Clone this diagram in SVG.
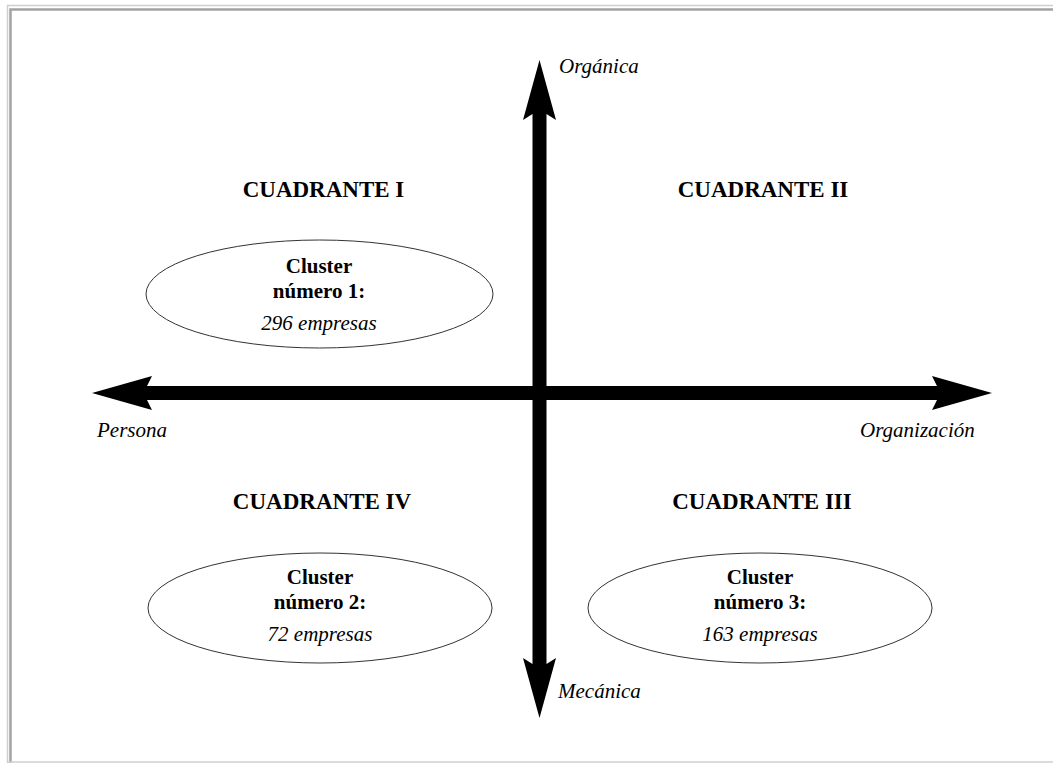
<svg xmlns="http://www.w3.org/2000/svg" width="1053" height="763" viewBox="0 0 1053 763">
  <style>
    .frame-outer { stroke: #cfcfcf; stroke-width: 1.5; fill: none; }
    .frame-inner { stroke: #a3a3a3; stroke-width: 2.5; fill: none; }
    .axis { fill: #000; stroke: none; }
    .cluster { fill: #fff; stroke: #333; stroke-width: 1; }
    .head { font-family: "Liberation Serif", "Times New Roman", serif; font-size: 23px; font-weight: bold; fill: #000; text-anchor: middle; }
    .bold { font-family: "Liberation Serif", "Times New Roman", serif; font-size: 21px; font-weight: bold; fill: #000; text-anchor: middle; }
    .ital { font-family: "Liberation Serif", "Times New Roman", serif; font-size: 21px; font-style: italic; fill: #000; }
    .mid { text-anchor: middle; }
  </style>

  <rect width="1053" height="763" fill="#fff"/>

  <!-- page frame -->
  <g id="frame">
    <path class="frame-outer" d="M7.5 763 V5.5 H1053"/>
    <path class="frame-inner" d="M10.5 763 V9.5 H1053"/>
    <path class="frame-outer" d="M7.5 762 H1053"/>
  </g>

  <!-- axes -->
  <g id="connectors">
    <polygon class="axis" points="539.5,60 556,120 546.5,114 546.5,664 556,658 539.5,718 523,658 532.5,664 532.5,114 523,120"/>
    <polygon class="axis" points="92,393 152,376 147,386 937,386 932,376 992,393 932,410 937,400 147,400 152,410"/>
  </g>

  <g id="label-organica"><text class="ital" x="559" y="73">Orgánica</text></g>
  <g id="label-mecanica"><text class="ital" x="558" y="698">Mecánica</text></g>
  <g id="label-persona"><text class="ital" x="97" y="437">Persona</text></g>
  <g id="label-organizacion"><text class="ital" x="860" y="437">Organización</text></g>

  <g id="cuadrante-1"><text class="head" x="323.5" y="197">CUADRANTE I</text></g>
  <g id="cuadrante-2"><text class="head" x="763" y="197">CUADRANTE II</text></g>
  <g id="cuadrante-4"><text class="head" x="322" y="509">CUADRANTE IV</text></g>
  <g id="cuadrante-3"><text class="head" x="762" y="509">CUADRANTE III</text></g>

  <g id="cluster-1">
    <ellipse class="cluster" cx="319.5" cy="294" rx="173.5" ry="54"/>
    <text class="bold" x="319" y="273">Cluster</text>
    <text class="bold" x="319" y="298">número 1:</text>
    <text class="ital mid" x="319" y="330">296 empresas</text>
  </g>

  <g id="cluster-2">
    <ellipse class="cluster" cx="320" cy="608" rx="172" ry="55"/>
    <text class="bold" x="320" y="584">Cluster</text>
    <text class="bold" x="320" y="609">número 2:</text>
    <text class="ital mid" x="320" y="641">72 empresas</text>
  </g>

  <g id="cluster-3">
    <ellipse class="cluster" cx="760" cy="608" rx="172" ry="55"/>
    <text class="bold" x="760" y="584">Cluster</text>
    <text class="bold" x="760" y="609">número 3:</text>
    <text class="ital mid" x="760" y="641">163 empresas</text>
  </g>
</svg>
